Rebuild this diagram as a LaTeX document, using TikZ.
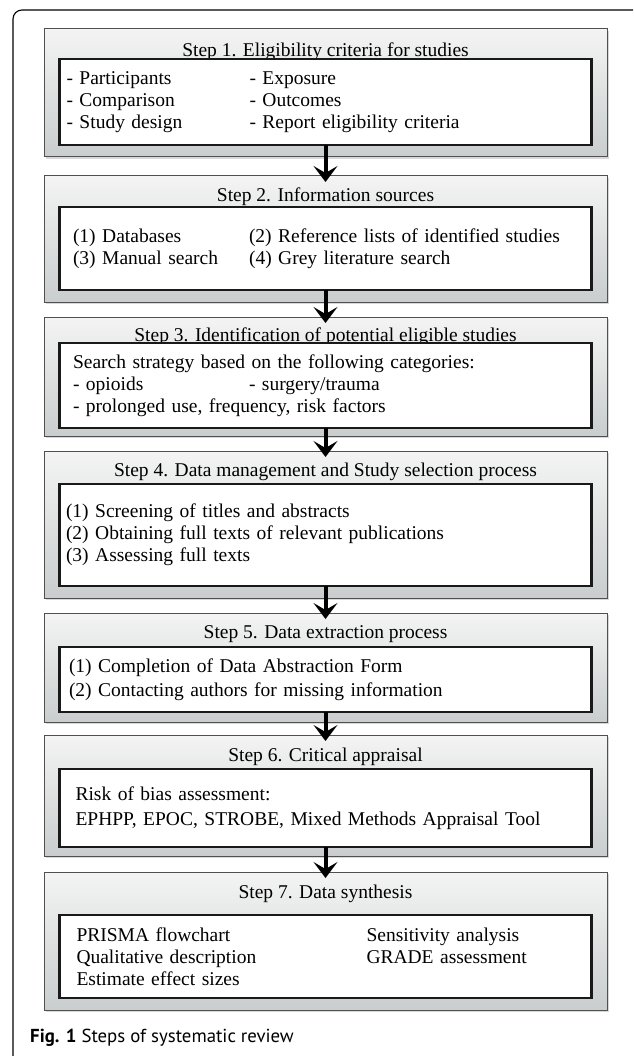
\documentclass[tikz,border=0pt]{standalone}
\definecolor{BoxTop}{RGB}{244,244,244}
\definecolor{BoxBottom}{RGB}{201,205,205}
\definecolor{BoxEdge}{RGB}{80,80,80}
\usepackage{fontspec}
\setmainfont{Liberation Serif}
\newfontfamily\capfont{PT Sans}
\usepackage{tikz}
\usetikzlibrary{arrows.meta,positioning,shadows}

\begin{document}
\begin{tikzpicture}[
    x=1pt, y=-1pt,
    node distance=15pt,
    stepbox/.style={draw=BoxEdge, line width=1pt, top color=BoxTop, bottom color=BoxBottom, minimum width=563pt, inner sep=0pt, outer sep=0pt, drop shadow={shadow xshift=1.5pt, shadow yshift=-2pt, opacity=0.3}},
    steptitle/.style={inner sep=0pt, font=\fontsize{19.5}{22}\selectfont},
    innerbox/.style={draw=black!90, line width=2.7pt, fill=white, outer sep=0pt, font=\fontsize{19.5}{22}\selectfont, align=left},
    arrow/.style={-{Stealth[length=16pt, width=24pt, inset=7pt]}, line width=4pt, shorten >=-6pt}
]
    \useasboundingbox (0,0) rectangle (633,1056);
    \fill[white] (0,0) rectangle (633,1056);
    \draw[line width=1.1pt, rounded corners=9pt] (13,1056) -- (13,10) -- (633,10);

    \node[stepbox, minimum height=128pt] (elig) at (325.5,93) {};
    \node[stepbox, minimum height=126pt, below=19pt of elig] (sources) {};
    \node[stepbox, minimum height=119pt, below=15pt of sources] (ident) {};
    \node[stepbox, minimum height=147pt, below=15pt of ident] (manage) {};
    \node[stepbox, minimum height=109pt, below=15pt of manage] (extract) {};
    \node[stepbox, minimum height=121pt, below=13pt of extract] (appraise) {};
    \node[stepbox, minimum height=138pt, below=16pt of appraise] (synth) {};

    \node[steptitle] (eligtitle) at ([yshift=-23pt]elig.north) {Step 1. Eligibility criteria for studies};
    \node[steptitle] (sourcestitle) at ([yshift=-21pt]sources.north) {Step 2. Information sources};
    \node[steptitle] (identtitle) at ([yshift=-20pt]ident.north) {Step 3. Identification of potential eligible studies};
    \node[steptitle] (managetitle) at ([yshift=-21pt]manage.north) {Step 4. Data management and Study selection process};
    \node[steptitle] (extracttitle) at ([yshift=-21pt]extract.north) {Step 5. Data extraction process};
    \node[steptitle] (appraisetitle) at ([yshift=-22pt]appraise.north) {Step 6. Critical appraisal};
    \node[steptitle] (synthtitle) at ([yshift=-22pt]synth.north) {Step 7. Data synthesis};

    \node[innerbox, text width=518pt, inner xsep=7pt, minimum height=86pt, above=12pt of elig.south] (eliglist)
        {\makebox[183pt][l]{- Participants}- Exposure\\
         \makebox[183pt][l]{- Comparison}- Outcomes\\
         \makebox[183pt][l]{- Study design}- Report eligibility criteria};
    \node[innerbox, text width=505pt, inner xsep=13.5pt, minimum height=83pt, above=12pt of sources.south] (sourceslist)
        {\makebox[176pt][l]{(1) Databases}(2) Reference lists of identified studies\\
         \makebox[176pt][l]{(3) Manual search}(4) Grey literature search};
    \node[innerbox, text width=505pt, inner xsep=13.5pt, minimum height=85pt, above=8pt of ident.south] (identlist)
        {Search strategy based on the following categories:\\
         \makebox[176pt][l]{- opioids}- surgery/trauma\\
         - prolonged use, frequency, risk factors};
    \node[innerbox, text width=519pt, inner xsep=6.5pt, minimum height=102pt, above=12pt of manage.south] (managelist)
        {(1) Screening of titles and abstracts\\
         (2) Obtaining full texts of relevant publications\\
         (3) Assessing full texts};
    \node[innerbox, text width=513pt, inner xsep=9.5pt, minimum height=65pt, above=10pt of extract.south] (extractlist)
        {(1) Completion of Data Abstraction Form\\[2pt]
         (2) Contacting authors for missing information};
    \node[innerbox, text width=500pt, inner xsep=16pt, minimum height=78pt, above=9pt of appraise.south] (appraiselist)
        {Risk of bias assessment:\\[3pt]
         EPHPP, EPOC, STROBE, Mixed Methods Appraisal Tool};
    \node[innerbox, text width=498pt, inner xsep=17pt, minimum height=83pt, above=12pt of synth.south] (synthlist)
        {\makebox[290pt][l]{PRISMA flowchart}Sensitivity analysis\\
         \makebox[290pt][l]{Qualitative description}GRADE assessment\\
         Estimate effect sizes};

    \draw[arrow] (eliglist.south) -- (sources.north);
    \draw[arrow] (sourceslist.south) -- (ident.north);
    \draw[arrow] (identlist.south) -- (manage.north);
    \draw[arrow] (managelist.south) -- (extract.north);
    \draw[arrow] (extractlist.south) -- (appraise.north);
    \draw[arrow] (appraiselist.south) -- (synth.north);

    \node[anchor=west, inner sep=0pt, font=\capfont\fontsize{18.8}{22}\selectfont] (caption) at (30,1038) {\textbf{Fig. 1} Steps of systematic review};
\end{tikzpicture}
\end{document}
